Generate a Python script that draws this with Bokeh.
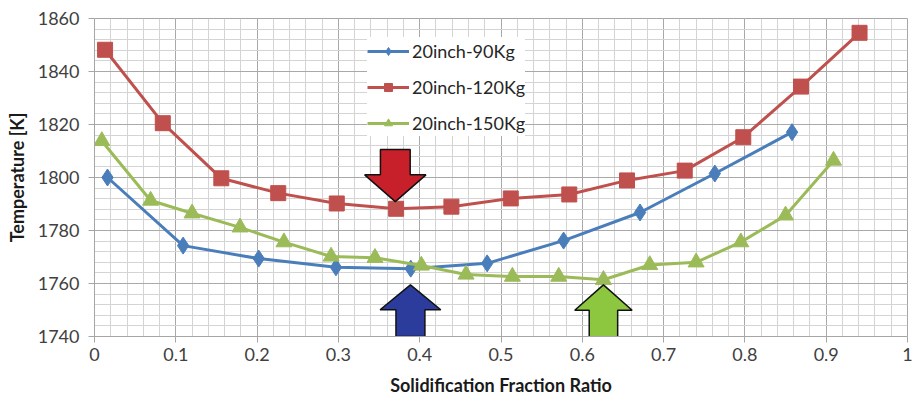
from bokeh.plotting import figure
from bokeh.models import FixedTicker, CustomJSTickFormatter, Legend, LegendItem
from bokeh.embed import file_html
from bokeh.resources import INLINE

# ---------------- data ----------------
x_90 = [0.016, 0.109, 0.202, 0.297, 0.389, 0.483, 0.577, 0.671, 0.763, 0.858]
t_90 = [1800.0, 1774.3, 1769.4, 1766.1, 1765.6, 1767.6, 1776.2, 1786.8, 1801.5, 1817.1]

x_120 = [0.013, 0.084, 0.156, 0.226, 0.298, 0.371, 0.439, 0.512, 0.584, 0.655,
         0.726, 0.798, 0.869, 0.941]
t_120 = [1848.2, 1820.5, 1799.7, 1794.1, 1790.2, 1788.2, 1789.0, 1792.1, 1793.6,
         1798.9, 1802.6, 1815.2, 1834.3, 1854.6]

x_150 = [0.009, 0.069, 0.120, 0.179, 0.233, 0.291, 0.345, 0.402, 0.457, 0.514,
         0.571, 0.626, 0.683, 0.740, 0.795, 0.850, 0.909]
t_150 = [1813.8, 1791.3, 1786.5, 1781.2, 1775.6, 1770.2, 1769.7, 1766.8, 1763.4,
         1762.6, 1762.6, 1761.4, 1767.0, 1768.0, 1775.6, 1785.7, 1806.4]

series_names = ["20inch-90Kg", "20inch-120Kg", "20inch-150Kg"]

x_ticks = [0, 0.1, 0.2, 0.3, 0.4, 0.5, 0.6, 0.7, 0.8, 0.9, 1.0]
y_ticks = [1740, 1760, 1780, 1800, 1820, 1840, 1860]

# annotation arrows: centre x, tip y, head-base y, tail y
arrow_x = [0.370, 0.3886, 0.626]
arrow_tip = [1790.9, 1759.5, 1759.5]
arrow_head = [1801.0, 1750.1, 1749.9]
arrow_tail = [1810.6, 1740.0, 1739.6]
arrow_colors = ["#c8202a", "#2c3c9c", "#8dc63f"]

# ---------------- figure ----------------
p = figure(width=916, height=404, x_range=(0, 1), y_range=(1740, 1860),
           output_backend="svg", toolbar_location=None,
           min_border_left=94, min_border_right=9, min_border_top=18,
           min_border_bottom=68)
p.background_fill_color = "white"
p.border_fill_color = "white"
p.outline_line_color = "#a6a6a6"
p.outline_line_width = 1

minor_x = [round(i * 0.02, 2) for i in range(51)]
minor_y = list(range(1740, 1861, 4))
p.xaxis.ticker = FixedTicker(ticks=x_ticks, minor_ticks=minor_x)
p.yaxis.ticker = FixedTicker(ticks=y_ticks, minor_ticks=minor_y)
p.xaxis.formatter = CustomJSTickFormatter(code="return String(Number(tick.toFixed(2)));")

for g in (p.xgrid, p.ygrid):
    g.grid_line_color = "#a9a9a9"
    g.grid_line_width = 1
    g.minor_grid_line_color = "#d4d4d4"
    g.minor_grid_line_width = 1

FONT = "Lato"
for ax in (p.xaxis, p.yaxis):
    ax.axis_line_color = "#a6a6a6"
    ax.major_tick_line_color = "#a6a6a6"
    ax.major_tick_out = 6
    ax.major_tick_in = 0
    ax.minor_tick_line_color = None
    ax.major_label_text_font = FONT
    ax.major_label_text_font_size = "18px"
    ax.major_label_text_color = "#404040"
    ax.axis_label_text_font = FONT
    ax.axis_label_text_font_style = "bold"
    ax.axis_label_text_font_size = "18px"
    ax.axis_label_text_color = "#1a1a1a"

p.xaxis.axis_label = "Solidification Fraction Ratio"
p.yaxis.axis_label = "Temperature [K]"
p.yaxis.major_label_standoff = 9
p.xaxis.major_label_standoff = 5
p.xaxis.axis_label_standoff = 10
p.yaxis.axis_label_standoff = 7

# ---------------- series ----------------
c90, c120, c150 = "#4a7ebb", "#c0504d", "#9bbb59"
l1 = p.line(x_90, t_90, line_color=c90, line_width=3)
m1 = p.scatter(x_90, t_90, marker="diamond", size=17, fill_color=c90, line_color=c90)
l2 = p.line(x_120, t_120, line_color=c120, line_width=3)
m2 = p.scatter(x_120, t_120, marker="square", size=15, fill_color=c120, line_color=c120)
l3 = p.line(x_150, t_150, line_color=c150, line_width=3)
m3 = p.scatter(x_150, t_150, marker="triangle", size=16, fill_color=c150, line_color=c150)

# ---------------- arrows ----------------
shaft_hw = [0.0183, 0.0178, 0.0175]
head_hw = [0.0377, 0.0373, 0.0353]
xs, ys = [], []
for cx, tip, hb, tail, sw, hw in zip(arrow_x, arrow_tip, arrow_head, arrow_tail, shaft_hw, head_hw):
    xs.append([cx - sw, cx + sw, cx + sw, cx + hw, cx, cx - hw, cx - sw])
    ys.append([tail, tail, hb, hb, tip, hb, hb])
p.patches(xs, ys, fill_color=arrow_colors, line_color="#111111", line_width=1.5)

# ---------------- legend ----------------
legend = Legend(items=[LegendItem(label=series_names[0], renderers=[l1, m1]),
                       LegendItem(label=series_names[1], renderers=[l2, m2]),
                       LegendItem(label=series_names[2], renderers=[l3, m3])],
                location=(273, 200))
legend.border_line_color = None
legend.background_fill_color = "white"
legend.background_fill_alpha = 1.0
legend.label_text_font = FONT
legend.label_text_font_size = "18px"
legend.label_text_color = "#262626"
legend.glyph_width = 42
legend.glyph_height = 20
legend.label_height = 27
legend.spacing = 9
legend.padding = 6
legend.margin = 0
legend.label_standoff = 3
p.add_layout(legend)

open("out.html", "w").write(file_html(p, INLINE))
